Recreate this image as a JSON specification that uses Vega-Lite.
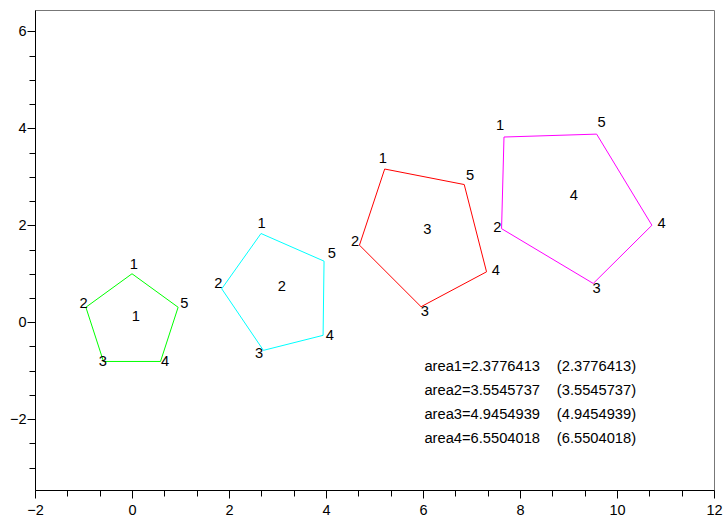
{
  "$schema": "https://vega.github.io/schema/vega-lite/v6.json",
  "autosize": "none",
  "width": 679,
  "height": 480,
  "padding": {"left": 35, "top": 10, "right": 9, "bottom": 31},
  "background": "white",
  "config": {
    "view": {"stroke": "#777777", "strokeWidth": 1},
    "text": {"font": "Liberation Sans", "fontSize": 14.7, "color": "#000000"}
  },
  "datasets": {
    "polys": [
      {"poly": 1, "k": 1, "x": 0, "y": 1},
      {"poly": 1, "k": 2, "x": -0.951, "y": 0.309},
      {"poly": 1, "k": 3, "x": -0.588, "y": -0.809},
      {"poly": 1, "k": 4, "x": 0.588, "y": -0.809},
      {"poly": 1, "k": 5, "x": 0.951, "y": 0.309},
      {"poly": 1, "k": 6, "x": 0, "y": 1},
      {"poly": 2, "k": 1, "x": 2.66, "y": 1.83},
      {"poly": 2, "k": 2, "x": 1.85, "y": 0.69},
      {"poly": 2, "k": 3, "x": 2.71, "y": -0.58},
      {"poly": 2, "k": 4, "x": 3.94, "y": -0.27},
      {"poly": 2, "k": 5, "x": 3.96, "y": 1.26},
      {"poly": 2, "k": 6, "x": 2.66, "y": 1.83},
      {"poly": 3, "k": 1, "x": 5.21, "y": 3.16},
      {"poly": 3, "k": 2, "x": 4.69, "y": 1.59},
      {"poly": 3, "k": 3, "x": 5.96, "y": 0.32},
      {"poly": 3, "k": 4, "x": 7.31, "y": 1.04},
      {"poly": 3, "k": 5, "x": 6.85, "y": 2.84},
      {"poly": 3, "k": 6, "x": 5.21, "y": 3.16},
      {"poly": 4, "k": 1, "x": 7.67, "y": 3.82},
      {"poly": 4, "k": 2, "x": 7.62, "y": 1.93},
      {"poly": 4, "k": 3, "x": 9.51, "y": 0.80},
      {"poly": 4, "k": 4, "x": 10.72, "y": 2.0},
      {"poly": 4, "k": 5, "x": 9.58, "y": 3.88},
      {"poly": 4, "k": 6, "x": 7.67, "y": 3.82}
    ],
    "labels": [
      {"t": "1", "x": 0.04, "y": 1.18},
      {"t": "2", "x": -1.0, "y": 0.38},
      {"t": "3", "x": -0.6, "y": -0.82},
      {"t": "4", "x": 0.68, "y": -0.82},
      {"t": "5", "x": 1.08, "y": 0.38},
      {"t": "1", "x": 0.08, "y": 0.11},
      {"t": "1", "x": 2.67, "y": 2.02},
      {"t": "2", "x": 1.78, "y": 0.78},
      {"t": "3", "x": 2.62, "y": -0.66},
      {"t": "4", "x": 4.08, "y": -0.29},
      {"t": "5", "x": 4.12, "y": 1.4},
      {"t": "2", "x": 3.09, "y": 0.72},
      {"t": "1", "x": 5.17, "y": 3.37},
      {"t": "2", "x": 4.6, "y": 1.66},
      {"t": "3", "x": 6.04, "y": 0.21},
      {"t": "4", "x": 7.5, "y": 1.05},
      {"t": "5", "x": 6.97, "y": 3.02},
      {"t": "3", "x": 6.09, "y": 1.91},
      {"t": "1", "x": 7.59, "y": 4.05},
      {"t": "2", "x": 7.53, "y": 1.95},
      {"t": "3", "x": 9.58, "y": 0.69},
      {"t": "4", "x": 10.92, "y": 2.03},
      {"t": "5", "x": 9.68, "y": 4.1},
      {"t": "4", "x": 9.11, "y": 2.6}
    ],
    "areas": [
      {"t": "area1=2.3776413", "x": 6.03, "y": -0.915},
      {"t": "area2=3.5545737", "x": 6.03, "y": -1.416},
      {"t": "area3=4.9454939", "x": 6.03, "y": -1.911},
      {"t": "area4=6.5504018", "x": 6.03, "y": -2.406},
      {"t": "(2.3776413)", "x": 8.76, "y": -0.915},
      {"t": "(3.5545737)", "x": 8.76, "y": -1.416},
      {"t": "(4.9454939)", "x": 8.76, "y": -1.911},
      {"t": "(6.5504018)", "x": 8.76, "y": -2.406}
    ]
  },
  "encoding": {
    "x": {
      "field": "x",
      "type": "quantitative",
      "scale": {"domain": [-2, 12], "nice": false, "zero": false},
      "axis": {
        "title": null,
        "grid": false,
        "values": [-2, -1.3333, -0.6667, 0, 0.6667, 1.3333, 2, 2.6667, 3.3333, 4, 4.6667, 5.3333, 6, 6.6667, 7.3333, 8, 8.6667, 9.3333, 10, 10.6667, 11.3333, 12],
        "labelExpr": "abs(datum.value/2 - round(datum.value/2)) < 0.01 ? format(datum.value, 'd') : ''",
        "tickSize": {"condition": {"test": "abs(datum.value/2 - round(datum.value/2)) < 0.01", "value": 8}, "value": 6},
        "tickColor": "#000000",
        "domainColor": "#000000",
        "labelColor": "#000000",
        "labelFont": "Liberation Sans",
        "labelFontSize": 14.5,
        "labelPadding": 5,
        "labelFlush": false,
        "labelOverlap": false,
        "labelBound": false
      }
    },
    "y": {
      "field": "y",
      "type": "quantitative",
      "scale": {"domain": [-3.46, 6.44], "nice": false, "zero": false},
      "axis": {
        "title": null,
        "grid": false,
        "values": [-3, -2.5, -2, -1.5, -1, -0.5, 0, 0.5, 1, 1.5, 2, 2.5, 3, 3.5, 4, 4.5, 5, 5.5, 6],
        "labelExpr": "abs(datum.value/2 - round(datum.value/2)) < 0.01 ? format(datum.value, 'd') : ''",
        "tickSize": {"condition": {"test": "abs(datum.value/2 - round(datum.value/2)) < 0.01", "value": 8}, "value": 6},
        "tickColor": "#000000",
        "domainColor": "#000000",
        "labelColor": "#000000",
        "labelFont": "Liberation Sans",
        "labelFontSize": 14.5,
        "labelPadding": 1,
        "labelFlush": false,
        "labelOverlap": false,
        "labelBound": false
      }
    }
  },
  "layer": [
    {
      "data": {"name": "polys"},
      "mark": {"type": "line", "strokeWidth": 1},
      "encoding": {
        "color": {
          "field": "poly",
          "type": "nominal",
          "scale": {"domain": [1, 2, 3, 4], "range": ["#00ff00", "#00ffff", "#ff0000", "#ff00ff"]},
          "legend": null
        },
        "order": {"field": "k", "type": "quantitative"}
      }
    },
    {
      "data": {"name": "labels"},
      "mark": {"type": "text", "align": "center", "baseline": "middle"},
      "encoding": {"text": {"field": "t", "type": "nominal"}}
    },
    {
      "data": {"name": "areas"},
      "mark": {"type": "text", "align": "left", "baseline": "middle"},
      "encoding": {"text": {"field": "t", "type": "nominal"}}
    }
  ]
}
